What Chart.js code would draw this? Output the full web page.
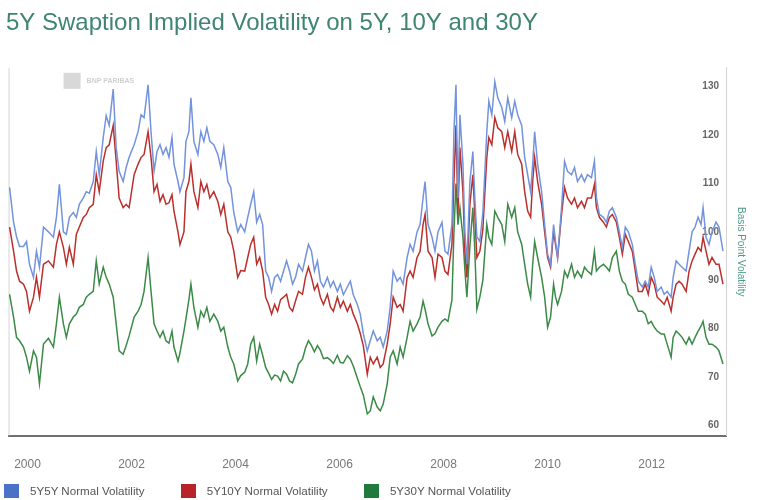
<!DOCTYPE html>
<html>
<head>
<meta charset="utf-8">
<script src="https://cdn.jsdelivr.net/npm/chart.js@4.4.1/dist/chart.umd.min.js"></script>
<style>
    body { margin: 0; background: #fff; }
    #wrap { position: relative; width: 766px; height: 500px; }
    #legend { position: absolute; left: 4px; top: 484px; font: 11.6px 'Liberation Sans', Arial, sans-serif; color: #555; white-space: nowrap; }
    #legend .item { display: inline-block; margin-right: 33px; }
    #legend .box { display: inline-block; width: 15px; height: 14px; vertical-align: -3px; margin-right: 11px; }
</style>
</head>
<body>
<div id="wrap">
    <canvas id="volChart" width="766" height="500"></canvas>
    <div id="legend"></div>
</div>
<script>
// Sample dates (decimal years)
const dates = [
    1999.655, 1999.732, 1999.789, 1999.847, 1999.923, 1999.981, 2000.038, 2000.115, 2000.172, 2000.230, 2000.307, 2000.402, 2000.498, 2000.556, 2000.613, 2000.690, 2000.747, 2000.805, 2000.881, 2000.939, 2000.996, 2001.073, 2001.130, 2001.188, 2001.264, 2001.322, 2001.379, 2001.456, 2001.513, 2001.571, 2001.648, 2001.705, 2001.762, 2001.839,
    2001.897, 2001.954, 2002.050, 2002.126, 2002.184, 2002.241, 2002.318, 2002.375, 2002.433, 2002.490, 2002.548, 2002.605, 2002.663, 2002.720, 2002.778, 2002.816, 2002.893, 2002.931, 2003.008, 2003.046, 2003.103, 2003.142, 2003.199, 2003.276, 2003.333, 2003.391, 2003.448, 2003.506, 2003.582, 2003.659, 2003.716, 2003.774, 2003.851, 2003.908, 2003.966, 2004.042, 2004.100, 2004.176,
    2004.234, 2004.291, 2004.349, 2004.406, 2004.464, 2004.521, 2004.579, 2004.636, 2004.693, 2004.751, 2004.808, 2004.866, 2004.923, 2004.981, 2005.038, 2005.096, 2005.153, 2005.211, 2005.287, 2005.345, 2005.402, 2005.460, 2005.517, 2005.575, 2005.632, 2005.690, 2005.766, 2005.824, 2005.881, 2005.958, 2006.015, 2006.073, 2006.149, 2006.207, 2006.264, 2006.341, 2006.398, 2006.456,
    2006.533, 2006.590, 2006.648, 2006.724, 2006.782, 2006.839, 2006.916, 2006.973, 2007.031, 2007.107, 2007.165, 2007.222, 2007.299, 2007.356, 2007.414, 2007.490, 2007.548, 2007.605, 2007.644, 2007.701, 2007.778, 2007.835, 2007.893, 2007.969, 2008.027, 2008.084, 2008.161, 2008.199, 2008.238, 2008.276, 2008.314, 2008.372, 2008.410, 2008.448, 2008.506, 2008.563, 2008.601, 2008.640, 2008.697, 2008.755,
    2008.831, 2008.870, 2008.927, 2008.985, 2009.042, 2009.119, 2009.176, 2009.234, 2009.310, 2009.368, 2009.425, 2009.502, 2009.559, 2009.617, 2009.674, 2009.713, 2009.751, 2009.808, 2009.885, 2009.943, 2010.000, 2010.057, 2010.115, 2010.153, 2010.192, 2010.268, 2010.326, 2010.383, 2010.460, 2010.517, 2010.575, 2010.651, 2010.709, 2010.766, 2010.843, 2010.900, 2010.939, 2010.996, 2011.073,
    2011.130, 2011.188, 2011.245, 2011.322, 2011.379, 2011.437, 2011.494, 2011.552, 2011.628, 2011.686, 2011.743, 2011.820, 2011.877, 2011.935, 2011.992, 2012.050, 2012.107, 2012.184, 2012.241, 2012.299, 2012.375, 2012.414, 2012.471, 2012.529, 2012.586, 2012.663, 2012.720, 2012.778, 2012.835, 2012.893, 2012.950, 2012.989, 2013.046, 2013.103, 2013.161, 2013.238, 2013.295, 2013.372
];

const vol5y5y = [
    109.2, 102, 99, 97, 97, 98, 93.3, 90.6, 96, 92.7, 101, 100, 98.9, 103, 109.8, 100, 99.5, 103, 104, 103, 105.7, 107, 108.3, 108, 110.4, 116.6, 111.8, 119.5, 124, 122, 129.5, 117.4, 112.5, 110.4,
    113.3, 115.4, 118, 120.7, 124.2, 123.6, 130.4, 120.7, 112.5, 116.6, 118, 116, 117.4, 115.4, 119.5, 114, 110.4, 108.3, 111.2, 118.7, 120.7, 127.7, 118.7, 116, 120.7, 118.7, 121.5, 118.7, 118, 116, 113.3, 117.4, 110.4, 109.2, 104, 100, 101.5, 100,
    103, 105.7, 108.3, 102, 103.6, 101.5, 91.9, 90.6, 87.7, 90.6, 91.2, 89.8, 91.9, 94, 91.9, 89.2, 90.6, 93.3, 91.9, 94.7, 97.4, 96, 91.9, 94, 89.8, 88.6, 90.6, 88.6, 89.8, 87.7, 89.2, 87, 88.6, 89.8, 87, 85, 83, 79,
    75.4, 77.5, 79.5, 77.5, 78.2, 76.2, 79.5, 84.4, 91.9, 89.8, 90.6, 89.2, 94.7, 97.4, 96, 100, 101.5, 107, 110.4, 101.5, 98.9, 96, 100, 102, 96, 95.4, 101.5, 120.7, 130.4, 107, 124.2, 114, 100, 93.3, 110.4, 116.6, 107, 99, 98, 104,
    120.7, 127, 124.2, 131, 127.7, 125.7, 122.8, 127.7, 123.6, 127, 124.2, 122, 115.4, 111.8, 108.3, 114, 120.7, 114, 108.3, 101.5, 95.4, 93.3, 101.5, 98, 94.7, 105, 114.6, 112.5, 111.8, 113.3, 110.4, 111.8, 110.4, 111.8, 111.2, 114.6, 107, 103.6, 103,
    102, 104.3, 105, 103, 100, 96.8, 101, 100, 97.4, 93.3, 89.8, 88.6, 89.8, 88.6, 92.7, 90.6, 87.7, 88.6, 87.1, 87.7, 86.5, 90.6, 94, 93.3, 92.7, 91.9, 96, 100, 101, 103, 101.5, 105, 98.9, 97.4, 100, 102, 101, 96
];

const vol5y10y = [
    101, 96, 91.9, 89.8, 89.2, 87.7, 83.6, 86.5, 90.6, 86.5, 93.3, 94, 92.7, 97.4, 100, 96.8, 93.3, 96.8, 93.3, 99.5, 101, 103, 103.6, 105, 105.7, 111.8, 108.3, 114.6, 117.4, 118, 122, 114.6, 107, 105,
    105.7, 105, 111.8, 114, 115.4, 116, 120.7, 115.4, 108.3, 109.8, 106.3, 107.7, 105.7, 106, 107.7, 104.3, 100, 97.4, 100, 108.3, 110.4, 114, 108.3, 105, 110.4, 108.3, 109.8, 107, 108.3, 106.3, 103.6, 105.7, 100, 98.9, 96, 90.6, 92, 91.9,
    94.7, 97.4, 98.9, 93.3, 94.7, 91.9, 86.5, 85, 83, 85, 83.6, 86, 86.5, 87.1, 84.4, 83.6, 85.7, 87.7, 87.1, 90.6, 92.7, 90.6, 88, 89.2, 86.5, 85, 87.1, 84.5, 83.6, 86.5, 84.4, 85.7, 83.6, 85, 83, 81, 79, 76.5,
    70.6, 74.1, 72.7, 74.1, 72, 72.7, 76.8, 81, 86.5, 84.4, 85, 83.6, 90.6, 91.9, 90.6, 94.7, 96, 101.5, 103.6, 96, 94.7, 90.6, 95.4, 94.7, 91.9, 91.2, 97.4, 110.4, 122, 103.6, 117.4, 108.3, 96, 90.6, 105.7, 111.8, 103.6, 94.7, 96, 100.5,
    115.4, 119.5, 118, 123.6, 121.5, 120.7, 117.4, 120.7, 116.6, 120.7, 116, 114, 108.3, 104.3, 103, 110.4, 115.4, 110.4, 105.7, 100, 94.7, 92.7, 100, 97.4, 94.7, 103.6, 109.2, 107, 105.7, 107, 105, 106.3, 105, 107, 107, 109.8, 105, 103, 102,
    101, 103, 103.6, 102, 98.9, 95.4, 99.5, 98, 96, 91.9, 87.7, 87.7, 89.2, 87.1, 90.6, 89.2, 86.5, 85.7, 85, 86.5, 83.6, 86.5, 89.2, 89.8, 89.2, 87.7, 91.9, 94, 95.4, 96.8, 96, 98.9, 96, 93.3, 94.7, 93.3, 93.3, 89.2
];

const vol5y30y = [
    87.1, 82.4, 78.2, 77.5, 76.2, 74.1, 71.2, 75.4, 74.1, 68.6, 76.8, 78, 76.2, 81, 86.5, 81, 78.2, 81, 82.4, 83, 84.4, 85, 86.5, 87.1, 87.7, 94, 89.2, 92.7, 90.6, 89.2, 86.5, 81, 75.4, 74.7,
    76.5, 78.5, 82.4, 83.6, 85, 87.7, 94.7, 87.7, 81, 79.5, 78.2, 79.5, 77.5, 77, 79.5, 76.2, 73.3, 75, 79.5, 82, 86, 89.2, 84.4, 80.3, 83.6, 82.4, 84.4, 81.5, 83, 81.5, 79.5, 80.3, 76.2, 74.1, 72.7, 69.2, 70.3, 71,
    72.7, 76.8, 78.2, 73.3, 76.8, 74.5, 72, 70.8, 69.5, 70.4, 70.2, 69.2, 71.2, 70.6, 69.2, 68.8, 70.5, 72.7, 73.7, 76, 77.5, 76.5, 75.2, 76.5, 75.5, 73.8, 74, 73.5, 72.8, 74.5, 73, 72.9, 74.4, 73.7, 72.3, 69.8, 68, 66.3,
    62.4, 63, 65.9, 63.8, 63, 64.4, 68.6, 74.1, 75.4, 72.7, 76.2, 74.1, 78.2, 81.5, 79.5, 81, 82.4, 85.7, 84, 81, 78.5, 79, 80.3, 81.5, 82, 81.5, 86, 100, 110, 101.5, 105, 98.9, 92, 86.5, 97, 105, 96, 84, 86.5, 90,
    101.5, 98.9, 97.4, 104.3, 103, 101.5, 98, 105.7, 103, 105, 100, 97.4, 93.3, 89.2, 86.5, 93.3, 98, 94.7, 90.6, 86.5, 80.3, 82.4, 89.2, 86.5, 85, 87.7, 91.9, 90.6, 93.3, 90.6, 91.9, 90.6, 92.7, 91.9, 91.2, 96, 91.9, 92.7, 93.3,
    92.7, 91.9, 94.7, 96, 91.9, 89.8, 89.2, 87.1, 86.5, 85, 83.6, 83.6, 83, 81, 81.5, 80.3, 79.5, 78.9, 78.9, 76.8, 74.1, 78.2, 79.5, 78.9, 78.2, 76.8, 78.2, 76.8, 78.2, 79.5, 80.5, 81.5, 78.2, 76.8, 76.8, 76.2, 75.4, 72.7
];

const seriesNames = ['5Y5Y Normal Volatility', '5Y10Y Normal Volatility', '5Y30Y Normal Volatility'];
const xTicks = [2000, 2002, 2004, 2006, 2008, 2010, 2012];
const yTicks = [60, 70, 80, 90, 100, 110, 120, 130];

const lineColors = ['#7393dc', '#b9302c', '#3c8a47'];
const boxColors = ['#4a73c8', '#b8232a', '#1f7b3b'];

Chart.defaults.font.family = "'Liberation Sans', Arial, sans-serif";

// faint logo + left frame line
const decorPlugin = {
    id: 'decor',
    beforeDatasetsDraw(chart) {
        const { ctx, chartArea } = chart;
        ctx.save();
        ctx.strokeStyle = '#d4d4d4';
        ctx.lineWidth = 1;
        ctx.beginPath();
        ctx.moveTo(chartArea.left + 0.5, chartArea.top);
        ctx.lineTo(chartArea.left + 0.5, chartArea.bottom);
        ctx.stroke();

        ctx.fillStyle = '#d8d8d8';
        ctx.fillRect(chartArea.left + 55, chartArea.top + 5, 17, 16);
        ctx.fillStyle = '#d0d0d0';
        ctx.font = "bold 7px 'Liberation Sans', Arial, sans-serif";
        ctx.textBaseline = 'middle';
        ctx.fillText('BNP PARIBAS', chartArea.left + 78, chartArea.top + 13);
        ctx.restore();
    }
};

function buildLegend() {
    const legend = document.getElementById('legend');
    legend.innerHTML = seriesNames.map((name, i) => `
        <span class="item"><span class="box" style="background:${boxColors[i]}"></span>${name}</span>
    `).join('');
}

function initializeVolChart() {
    const ctx = document.getElementById('volChart');
    const allSeries = [vol5y5y, vol5y10y, vol5y30y];

    new Chart(ctx, {
        type: 'line',
        data: {
            datasets: allSeries.map((values, i) => ({
                label: seriesNames[i],
                data: dates.map((d, j) => ({ x: d, y: values[j] })),
                borderColor: lineColors[i],
                borderWidth: 1.5,
                pointRadius: 0,
                tension: 0
            }))
        },
        options: {
            responsive: false,
            animation: false,
            layout: { padding: { left: 6, right: 19, top: 0, bottom: 14 } },
            plugins: {
                legend: { display: false },
                tooltip: { enabled: false },
                title: {
                    display: true,
                    text: '5Y Swaption Implied Volatility on 5Y, 10Y and 30Y',
                    align: 'start',
                    color: '#3f8570',
                    font: { size: 24, weight: 'normal' },
                    padding: { top: 9, bottom: 30 }
                }
            },
            scales: {
                x: {
                    type: 'linear',
                    min: 1999.636,
                    max: 2013.43,
                    afterBuildTicks: axis => { axis.ticks = xTicks.map(v => ({ value: v })); },
                    grid: { display: false },
                    border: { color: '#707070', width: 2 },
                    ticks: { color: '#777', font: { size: 12 }, padding: 14, maxRotation: 0, callback: v => String(v) }
                },
                y: {
                    position: 'right',
                    min: 57.9,
                    max: 133.9,
                    afterBuildTicks: axis => { axis.ticks = yTicks.map(v => ({ value: v })); },
                    grid: { display: false },
                    border: { color: '#d4d4d4', width: 1 },
                    ticks: { mirror: true, padding: -7, color: '#666', font: { size: 10, weight: 'bold' } },
                    title: {
                        display: true,
                        text: 'Basis Point Volatility',
                        color: '#4f9a86',
                        font: { size: 10 },
                        padding: { top: 0, bottom: 15 }
                    }
                }
            }
        },
        plugins: [decorPlugin]
    });
}

document.addEventListener('DOMContentLoaded', function() {
    buildLegend();
    initializeVolChart();
});
</script>
</body>
</html>
